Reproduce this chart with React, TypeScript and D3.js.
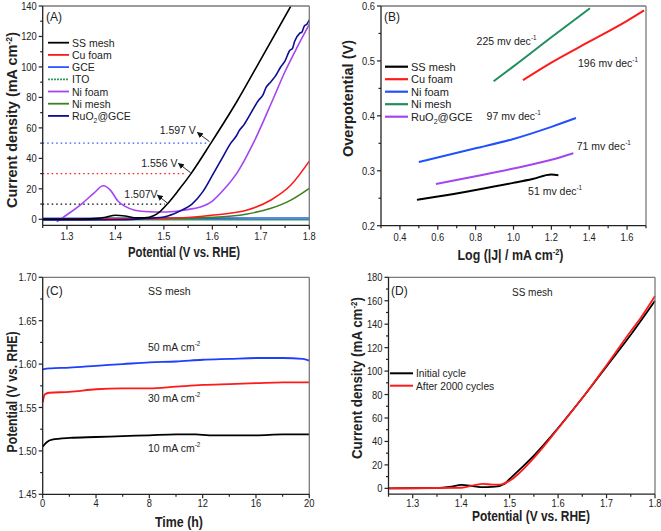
import React from 'react';
import * as d3 from 'd3';

const FONT = "'Liberation Sans', Arial, Helvetica, sans-serif";

// ---------- Panel A data ----------
const A_SS: [number, number][] = [[1.25,0.2],[1.30,0.2],[1.35,0.4],[1.38,1.3],[1.40,2.7],[1.42,2.2],[1.44,1.0],[1.46,1.0],[1.48,2.5],[1.49,4.5],[1.507,10],[1.53,19],[1.556,30],[1.597,50],[1.65,77],[1.70,105],[1.762,140]];
const A_CU: [number, number][] = [[1.30,0.2],[1.45,0.4],[1.50,0.6],[1.55,1.2],[1.603,2.8],[1.672,6.1],[1.721,12.7],[1.762,22.5],[1.80,38.2]];
const A_GCE: [number, number][] = [[1.25,0.6],[1.40,0.7],[1.60,0.8],[1.80,0.9]];
const A_ITO: [number, number][] = [[1.25,-0.3],[1.50,-0.3],[1.80,-0.3]];
const A_NIFOAM: [number, number][] = [[1.279,-1.6],[1.30,3],[1.33,10],[1.355,17],[1.375,22],[1.39,19],[1.405,12],[1.42,8.5],[1.44,6],[1.47,5],[1.50,4.8],[1.53,5.5],[1.56,7],[1.58,8.5],[1.60,12],[1.625,20],[1.652,31],[1.686,51],[1.724,78],[1.75,97],[1.775,113],[1.80,128]];
const A_NIMESH: [number, number][] = [[1.35,0.5],[1.40,0.6],[1.50,0.6],[1.603,1.3],[1.672,3.5],[1.721,7.2],[1.762,12.6],[1.80,20.3]];
const A_RUO2: [number, number][] = [[1.25,-0.4],[1.40,-0.3],[1.45,0.3],[1.50,1.5],[1.52,3.5],[1.54,6.5],[1.558,10],[1.58,18],[1.602,30],[1.62,40],[1.638,50],[1.65,55],[1.655,58],[1.665,62],[1.68,70],[1.695,78],[1.705,82],[1.71,86],[1.72,90],[1.73,94],[1.741,100],[1.75,104],[1.76,111],[1.765,112],[1.77,117],[1.78,122],[1.785,123],[1.79,127],[1.795,128],[1.80,131]];
const A_LEGEND = ['SS mesh', 'Cu foam', 'GCE', 'ITO', 'Ni foam', 'Ni mesh', 'RuO2@GCE'];
const A_COLORS = ['#000000', '#ff1a1a', '#2f55ff', '#2e9a60', '#a545ef', '#3f7f1f', '#0c0c94'];
const A_X_TICKS = [1.3, 1.4, 1.5, 1.6, 1.7, 1.8];
const A_X_MINOR = [1.25, 1.35, 1.45, 1.55, 1.65, 1.75];
const A_Y_TICKS = [0, 20, 40, 60, 80, 100, 120, 140];
const A_Y_MINOR = [10, 30, 50, 70, 90, 110, 130];
const A_LEVELS = [50, 30, 10];
const A_LEVEL_END = [1.588, 1.547, 1.502];
const A_LEVEL_COLORS = ['#2f55ff', '#ff1a1a', '#000000'];
const A_ANN_TEXT = ['1.597 V', '1.556 V', '1.507V'];
const A_ANN_TAIL: [number, number][] = [[1.594, 51], [1.555, 30.6], [1.507, 10.7]];
const A_ANN_HEAD: [number, number][] = [[1.569, 57], [1.530, 36.7], [1.4866, 15.9]];
const A_ANN_POS: [number, number][] = [[1.566, 56], [1.528, 34.3], [1.487, 14]];

// ---------- Panel B data ----------
const B_SS: [number, number][] = [[0.49,0.247],[0.6,0.253],[0.8,0.265],[1.0,0.278],[1.1,0.285],[1.2,0.293],[1.237,0.292]];
const B_CU: [number, number][] = [[1.05,0.465],[1.2,0.497],[1.4,0.535],[1.6,0.573],[1.69,0.592]];
const B_NIFOAM: [number, number][] = [[0.5,0.316],[0.8,0.341],[1.0,0.358],[1.2,0.380],[1.33,0.396]];
const B_NIMESH: [number, number][] = [[0.895,0.463],[1.0,0.49],[1.2,0.543],[1.404,0.596]];
const B_RUO2: [number, number][] = [[0.59,0.276],[0.8,0.290],[1.0,0.304],[1.2,0.320],[1.316,0.332]];
const B_LEGEND = ['SS mesh', 'Cu foam', 'Ni foam', 'Ni mesh', 'RuO2@GCE'];
const B_COLORS = ['#000000', '#ff1a1a', '#2050ff', '#1f8f5f', '#a545ef'];
const B_SLOPES = ['225', '196', '97', '71', '51'];
const B_SLOPE_POS: [number, number][] = [[0.805, 0.529], [1.341, 0.489], [0.858, 0.392], [1.334, 0.338], [1.077, 0.256]];
const B_X_TICKS = [0.4, 0.6, 0.8, 1.0, 1.2, 1.4, 1.6];
const B_X_MINOR = [0.3, 0.5, 0.7, 0.9, 1.1, 1.3, 1.5, 1.7];
const B_Y_TICKS = [0.2, 0.3, 0.4, 0.5, 0.6];
const B_Y_MINOR = [0.25, 0.35, 0.45, 0.55];

// ---------- Panel C data ----------
const C_50: [number, number][] = [[0,1.594],[0.5,1.595],[2,1.596],[4,1.598],[6,1.600],[8,1.602],[10,1.603],[12,1.605],[14,1.606],[16,1.607],[18,1.607],[19.5,1.606],[20,1.604]];
const C_30: [number, number][] = [[0,1.556],[0.15,1.565],[0.5,1.567],[2,1.568],[4,1.571],[6,1.572],[8,1.572],[10,1.574],[12,1.576],[14,1.577],[16,1.578],[18,1.579],[20,1.579]];
const C_10: [number, number][] = [[0,1.505],[0.3,1.510],[0.7,1.513],[2,1.515],[4,1.516],[6,1.517],[8,1.518],[10,1.519],[11.5,1.519],[12.5,1.518],[14,1.518],[16,1.518],[18,1.519],[20,1.519]];
const C_LABELS = ['50 mA cm', '30 mA cm', '10 mA cm'];
const C_COLORS = ['#1f3fff', '#ff1a1a', '#000000'];
const C_X_TICKS = [0, 4, 8, 12, 16, 20];
const C_X_MINOR = [2, 6, 10, 14, 18];
const C_Y_TICKS = [1.45, 1.50, 1.55, 1.60, 1.65, 1.70];
const C_Y_MINOR = [1.475, 1.525, 1.575, 1.625, 1.675];

// ---------- Panel D data ----------
const D_INIT: [number, number][] = [[1.25,0],[1.35,0.3],[1.38,1.5],[1.40,2.9],[1.42,2.2],[1.44,1.0],[1.47,1.5],[1.49,4],[1.50,8],[1.55,28],[1.60,51.5],[1.65,77],[1.70,104],[1.75,131],[1.80,160]];
const D_AFTER: [number, number][] = [[1.25,0],[1.40,0.5],[1.425,2.5],[1.445,3.8],[1.465,3.2],[1.48,3.2],[1.50,6.5],[1.55,26],[1.60,51],[1.65,77],[1.70,105],[1.75,134],[1.77,145],[1.80,164]];
const D_LEGEND = ['Initial cycle', 'After 2000 cycles'];
const D_COLORS = ['#000000', '#ff1a1a'];
const D_X_TICKS = [1.3, 1.4, 1.5, 1.6, 1.7, 1.8];
const D_X_MINOR = [1.25, 1.35, 1.45, 1.55, 1.65, 1.75];
const D_Y_TICKS = [0, 20, 40, 60, 80, 100, 120, 140, 160, 180];
const D_Y_MINOR = [10, 30, 50, 70, 90, 110, 130, 150, 170];

type Scale = d3.ScaleLinear<number, number>;

function TickText(props: { x: number; y: number; anchor: 'start' | 'middle' | 'end'; children: React.ReactNode }) {
  return (
    <text transform={`translate(${props.x},${props.y}) scale(0.85,1)`} textAnchor={props.anchor} fontSize={11} fontFamily={FONT} fill="#222">
      {props.children}
    </text>
  );
}

function Axes(props: { x: Scale; y: Scale; xTicks: number[]; xMinor: number[]; yTicks: number[]; yMinor: number[]; fx: (v: number) => string; fy: (v: number) => string; xLabelOff: number }) {
  const { x, y, xTicks, xMinor, yTicks, yMinor, fx, fy, xLabelOff } = props;
  const [x0, x1] = x.range();
  const [y0, y1] = y.range();
  return (
    <g>
      <line x1={x0} x2={x1} y1={y1} y2={y1} stroke="#7a7a7a" strokeWidth={1.3} />
      <line x1={x1} x2={x1} y1={y0} y2={y1} stroke="#7a7a7a" strokeWidth={1.3} />
      <line x1={x0} x2={x1} y1={y0} y2={y0} stroke="#222" strokeWidth={1.3} />
      <line x1={x0} x2={x0} y1={y0} y2={y1} stroke="#222" strokeWidth={1.3} />
      {xTicks.map((t) => (
        <g key={'xt' + t}>
          <line x1={x(t)} x2={x(t)} y1={y0} y2={y0 + 4} stroke="#222" strokeWidth={1.2} />
          <TickText x={x(t)} y={y0 + xLabelOff} anchor="middle">{fx(t)}</TickText>
        </g>
      ))}
      {xMinor.map((t) => (
        <line key={'xm' + t} x1={x(t)} x2={x(t)} y1={y0} y2={y0 + 2.5} stroke="#222" strokeWidth={1.2} />
      ))}
      {yTicks.map((t) => (
        <g key={'yt' + t}>
          <line x1={x0} x2={x0 - 4} y1={y(t)} y2={y(t)} stroke="#222" strokeWidth={1.2} />
          <TickText x={x0 - 6} y={y(t) + 4} anchor="end">{fy(t)}</TickText>
        </g>
      ))}
      {yMinor.map((t) => (
        <line key={'ym' + t} x1={x0} x2={x0 - 2.5} y1={y(t)} y2={y(t)} stroke="#222" strokeWidth={1.2} />
      ))}
    </g>
  );
}

function lineGen(x: Scale, y: Scale) {
  return d3.line<[number, number]>().x((d) => x(d[0])).y((d) => y(d[1])).curve(d3.curveMonotoneX);
}

function Sup({ t }: { t: string }) {
  return <tspan dy={-5} fontSize="0.6em">{t}</tspan>;
}

function Title(props: { x: number; y: number; len: number; rotate?: boolean; children: React.ReactNode }) {
  const { x, y, len, rotate, children } = props;
  return (
    <text transform={`translate(${x},${y})${rotate ? ' rotate(-90)' : ''}`} textAnchor="middle" fontSize={14} fontWeight="bold" fontFamily={FONT} fill="#222" textLength={len} lengthAdjust="spacingAndGlyphs">
      {children}
    </text>
  );
}

function RuLabel() {
  return (<>RuO<tspan dy={3} fontSize="0.65em">2</tspan><tspan dy={-3}>@GCE</tspan></>);
}

function PanelA() {
  const x = d3.scaleLinear().domain([1.25, 1.8]).range([42.7, 309.3]);
  const y = d3.scaleLinear().domain([-4, 140]).range([225.4, 6]);
  const lg = lineGen(x, y);
  const series = [A_SS, A_CU, A_GCE, A_ITO, A_NIFOAM, A_NIMESH, A_RUO2];
  const order = [3, 2, 5, 1, 4, 6, 0];
  return (
    <g>
      <defs>
        <clipPath id="clipA"><rect x={42.7} y={6} width={266.6} height={219.4} /></clipPath>
      </defs>
      {A_LEVELS.map((lv, i) => (
        <line key={'lv' + i} x1={x(1.25)} x2={x(A_LEVEL_END[i])} y1={y(lv)} y2={y(lv)} stroke={A_LEVEL_COLORS[i]} strokeWidth={1.3} strokeDasharray="1.5,3" />
      ))}
      <g clipPath="url(#clipA)">
        {order.map((i) => (
          <path key={'a' + i} d={lg(series[i]) || ''} fill="none" stroke={A_COLORS[i]} strokeWidth={1.6} />
        ))}
      </g>
      {A_ANN_TEXT.map((t, i) => (
        <g key={'ann' + i}>
          <line x1={x(A_ANN_TAIL[i][0])} y1={y(A_ANN_TAIL[i][1])} x2={x(A_ANN_HEAD[i][0])} y2={y(A_ANN_HEAD[i][1])} stroke="#111" strokeWidth={0.9} markerEnd="url(#arrowhead)" />
          <text x={x(A_ANN_POS[i][0])} y={y(A_ANN_POS[i][1])} textAnchor="end" fontSize={10.5} fontFamily={FONT} fill="#222">{t}</text>
        </g>
      ))}
      <Axes x={x} y={y} xTicks={A_X_TICKS} xMinor={A_X_MINOR} yTicks={A_Y_TICKS} yMinor={A_Y_MINOR} fx={d3.format('.1f')} fy={d3.format('d')} xLabelOff={14.5} />
      <text x={46} y={21} fontSize={12} fontFamily={FONT} fill="#222">(A)</text>
      {A_LEGEND.map((n, i) => {
        const yy = 42.7 + i * 12.2;
        return (
          <g key={'la' + i}>
            <line x1={48} x2={69} y1={yy} y2={yy} stroke={A_COLORS[i]} strokeWidth={1.8} strokeDasharray={i === 3 ? '2,1' : undefined} />
            <text x={72} y={yy + 4} fontSize={10.5} fontFamily={FONT} fill="#222">
              {n === 'RuO2@GCE' ? <RuLabel /> : n}
            </text>
          </g>
        );
      })}
      <Title x={184} y={257} len={112}>Potential (V vs. RHE)</Title>
      <Title x={17} y={120} len={176} rotate>
        Current density (mA cm<Sup t="-2" /><tspan dy={5}>)</tspan>
      </Title>
    </g>
  );
}

function PanelB() {
  const x = d3.scaleLinear().domain([0.3, 1.7]).range([381, 646]);
  const y = d3.scaleLinear().domain([0.2, 0.6]).range([225.7, 6]);
  const lg = lineGen(x, y);
  const series = [B_SS, B_CU, B_NIFOAM, B_NIMESH, B_RUO2];
  return (
    <g>
      {series.map((s, i) => (
        <path key={'b' + i} d={lg(s) || ''} fill="none" stroke={B_COLORS[i]} strokeWidth={2} />
      ))}
      <Axes x={x} y={y} xTicks={B_X_TICKS} xMinor={B_X_MINOR} yTicks={B_Y_TICKS} yMinor={B_Y_MINOR} fx={d3.format('.1f')} fy={d3.format('.1f')} xLabelOff={15.5} />
      <text x={384} y={21} fontSize={12} fontFamily={FONT} fill="#222">(B)</text>
      {B_SLOPES.map((s, i) => (
        <text key={'sl' + i} x={x(B_SLOPE_POS[i][0])} y={y(B_SLOPE_POS[i][1])} fontSize={10.5} fontFamily={FONT} fill="#222">
          {s} mv dec<Sup t="-1" />
        </text>
      ))}
      {B_LEGEND.map((n, i) => {
        const yy = 66.7 + i * 12.5;
        return (
          <g key={'lb' + i}>
            <line x1={385} x2={408} y1={yy} y2={yy} stroke={B_COLORS[i]} strokeWidth={2.2} />
            <text x={411} y={yy + 4} fontSize={11} fontFamily={FONT} fill="#222">
              {n === 'RuO2@GCE' ? <RuLabel /> : n}
            </text>
          </g>
        );
      })}
      <Title x={510.5} y={260} len={106}>
        Log (|J| / mA cm<Sup t="-2" /><tspan dy={5}>)</tspan>
      </Title>
      <Title x={353} y={98.5} len={117} rotate>Overpotential (V)</Title>
    </g>
  );
}

function PanelC() {
  const x = d3.scaleLinear().domain([0, 20]).range([42.7, 309.3]);
  const y = d3.scaleLinear().domain([1.45, 1.70]).range([494.3, 277.3]);
  const lg = lineGen(x, y);
  const series = [C_50, C_30, C_10];
  const labelY = [351, 402, 452];
  return (
    <g>
      {series.map((s, i) => (
        <path key={'c' + i} d={lg(s) || ''} fill="none" stroke={C_COLORS[i]} strokeWidth={1.8} />
      ))}
      <Axes x={x} y={y} xTicks={C_X_TICKS} xMinor={C_X_MINOR} yTicks={C_Y_TICKS} yMinor={C_Y_MINOR} fx={d3.format('d')} fy={d3.format('.2f')} xLabelOff={12.5} />
      <text x={46} y={295} fontSize={12} fontFamily={FONT} fill="#222">(C)</text>
      <text x={148} y={295} fontSize={10.5} fontFamily={FONT} fill="#222">SS mesh</text>
      {C_LABELS.map((t, i) => (
        <text key={'cl' + i} x={148} y={labelY[i]} fontSize={10.5} fontFamily={FONT} fill="#222">{t}<Sup t="-2" /></text>
      ))}
      <Title x={179} y={526.5} len={48}>Time (h)</Title>
      <Title x={16.5} y={392} len={121} rotate>Potential (V vs. RHE)</Title>
    </g>
  );
}

function PanelD() {
  const x = d3.scaleLinear().domain([1.25, 1.8]).range([388.5, 655]);
  const y = d3.scaleLinear().domain([-5, 180]).range([494.2, 277.3]);
  const lg = lineGen(x, y);
  const series = [D_INIT, D_AFTER];
  return (
    <g>
      {series.map((s, i) => (
        <path key={'d' + i} d={lg(s) || ''} fill="none" stroke={D_COLORS[i]} strokeWidth={1.8} />
      ))}
      <Axes x={x} y={y} xTicks={D_X_TICKS} xMinor={D_X_MINOR} yTicks={D_Y_TICKS} yMinor={D_Y_MINOR} fx={d3.format('.1f')} fy={d3.format('d')} xLabelOff={13} />
      <text x={391} y={295} fontSize={12} fontFamily={FONT} fill="#222">(D)</text>
      <text x={512} y={296} fontSize={10} fontFamily={FONT} fill="#222">SS mesh</text>
      {D_LEGEND.map((n, i) => {
        const yy = 373.3 + i * 12.4;
        return (
          <g key={'ld' + i}>
            <line x1={390} x2={413} y1={yy} y2={yy} stroke={D_COLORS[i]} strokeWidth={2} />
            <text x={416} y={yy + 4} fontSize={10.2} fontFamily={FONT} fill="#222">{n}</text>
          </g>
        );
      })}
      <Title x={531} y={521} len={118}>Potential (V vs. RHE)</Title>
      <Title x={362} y={378} len={162} rotate>
        Current density (mA cm<Sup t="-2" /><tspan dy={5}>)</tspan>
      </Title>
    </g>
  );
}

export default function App() {
  return (
    <svg width={661} height={531} viewBox="0 0 661 531" style={{ position: 'absolute', left: 0, top: 0, background: '#fff' }}>
      <defs>
        <marker id="arrowhead" viewBox="0 0 10 10" refX="9" refY="5" markerWidth="6" markerHeight="6" orient="auto-start-reverse" markerUnits="userSpaceOnUse">
          <path d="M0,0 L10,5 L0,10 z" fill="#111" />
        </marker>
      </defs>
      <rect x={0} y={0} width={661} height={531} fill="#fff" />
      <PanelA />
      <PanelB />
      <PanelC />
      <PanelD />
    </svg>
  );
}
